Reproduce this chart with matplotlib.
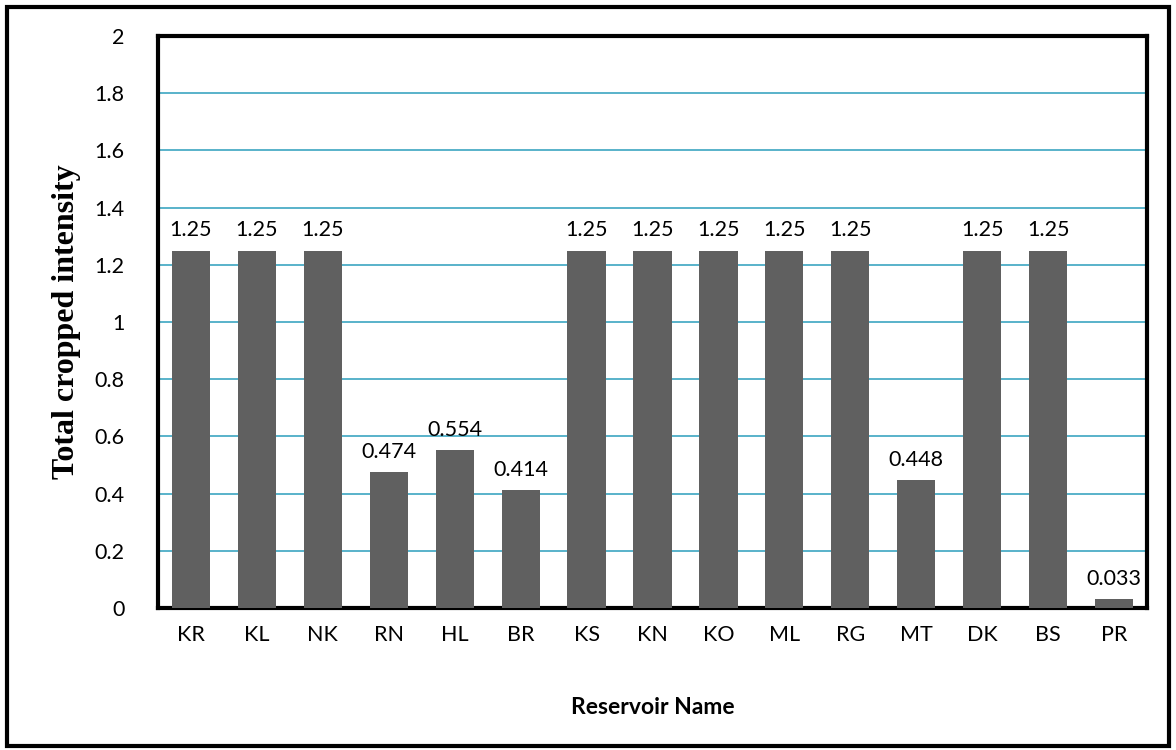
import matplotlib.pyplot as plt
from matplotlib.patches import Rectangle

# Chart data
reservoirs = ['KR', 'KL', 'NK', 'RN', 'HL', 'BR', 'KS', 'KN', 'KO', 'ML', 'RG', 'MT', 'DK', 'BS', 'PR']
intensity = [1.25, 1.25, 1.25, 0.474, 0.554, 0.414, 1.25, 1.25, 1.25, 1.25, 1.25, 0.448, 1.25, 1.25, 0.033]
labels = ['1.25', '1.25', '1.25', '0.474', '0.554', '0.414', '1.25', '1.25', '1.25', '1.25', '1.25',
          '0.448', '1.25', '1.25', '0.033']
yticks = [0, 0.2, 0.4, 0.6, 0.8, 1, 1.2, 1.4, 1.6, 1.8, 2]
ytick_labels = ['0', '0.2', '0.4', '0.6', '0.8', '1', '1.2', '1.4', '1.6', '1.8', '2']

bar_color = '#606060'
grid_color = '#4bacc6'
label_font = ['Lato', 'DejaVu Sans']

fig = plt.figure(figsize=(11.76, 7.5), dpi=100)
ax = fig.add_axes([0.1344, 0.1893, 0.8409, 0.7627])

x = range(len(reservoirs))
ax.bar(x, intensity, width=0.58, color=bar_color, zorder=3)

# Value labels above each bar
for xi, val, lab in zip(x, intensity, labels):
    ax.text(xi, val + 0.035, lab, ha='center', va='bottom', fontsize=15.5, family=label_font)

ax.set_xlim(-0.5, len(reservoirs) - 0.5)
ax.set_ylim(0, 2)
ax.set_yticks(yticks)
ax.set_yticklabels(ytick_labels, family=label_font, fontsize=15.5)
ax.set_xticks(list(x))
ax.set_xticklabels(reservoirs, family=label_font, fontsize=15.5)
ax.tick_params(axis='both', length=0)
ax.tick_params(axis='y', pad=24)
ax.tick_params(axis='x', pad=12)

ax.yaxis.grid(True, color=grid_color, linewidth=1.3, zorder=0)
ax.set_axisbelow(True)

for side in ['top', 'right', 'bottom', 'left']:
    ax.spines[side].set_linewidth(3)
    ax.spines[side].set_color('black')

ax.set_ylabel('Total cropped intensity', family='Liberation Serif', fontweight='bold', fontsize=23, labelpad=10)
ax.set_xlabel('Reservoir Name', family=label_font, fontweight='bold', fontsize=16.5, labelpad=38)

# Outer frame around the whole chart
fig.patches.append(Rectangle((0.006, 0.006), 0.988, 0.985, transform=fig.transFigure,
                             fill=False, edgecolor='black', linewidth=3))

fig.savefig('out.png', dpi=100)
